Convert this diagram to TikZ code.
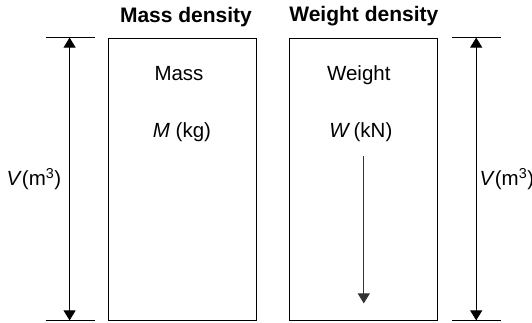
\documentclass[tikz,border=0pt]{standalone}
\usepackage{fontspec}
\setmainfont{Liberation Sans}
\usetikzlibrary{arrows.meta,positioning}
\tikzset{densitybox/.style={rectangle,draw=black,line width=0.8pt,minimum width=148pt,minimum height=282pt,inner sep=0pt}}
\tikzset{heading/.style={font=\bfseries\fontsize{21}{25}\selectfont,inner sep=0pt}}
\tikzset{boxtext/.style={font=\fontsize{20.5}{24}\selectfont,inner sep=0pt}}
\tikzset{dimarrow/.style={line width=0.9pt,{Triangle[length=10pt,width=12pt]}-{Triangle[length=10pt,width=12pt]}}}
\tikzset{forcearrow/.style={line width=0.9pt,draw=black!80,-{Triangle[length=10pt,width=12pt]}}}
\tikzset{extline/.style={line width=0.8pt}}

\begin{document}
\begin{tikzpicture}
  \useasboundingbox (0,0) rectangle (532pt,323pt);
  % the two boxes
  \node[densitybox] (massbox) at (182pt,144pt) {};
  \node[densitybox,right=33pt of massbox] (weightbox) {};
  \node[heading,above=11pt of massbox,xshift=4pt] (masstitle) {Mass density};
  \node[heading,above=11pt of weightbox] (weighttitle) {Weight density};
  % texts in the boxes
  \node[boxtext,anchor=base] (mass) at ([xshift=-3pt,yshift=-43pt]massbox.north) {Mass};
  \node[boxtext,anchor=base] (masssym) at ([yshift=-57pt]mass.base -| massbox.north) {\textit{M} (kg)};
  \node[boxtext,anchor=base] (weight) at ([xshift=-5pt]mass.base -| weightbox.north) {Weight};
  \node[boxtext,anchor=base] (weightsym) at ([xshift=-3pt]masssym.base -| weightbox.north) {\textit{W}\,(kN)};
  % weight arrow
  \coordinate (wtop) at ([yshift=-18pt]masssym.base -| weightbox.north);
  \coordinate (wbot) at ([yshift=17pt]weightbox.south);
  \draw[forcearrow] (wtop) -- (wbot);
  % volume dimensions
  \coordinate (la) at ([xshift=-62pt]massbox.north west);
  \coordinate (lb) at ([xshift=-13pt]massbox.north west);
  \coordinate (lc) at ([xshift=-62pt]massbox.south west);
  \coordinate (ld) at ([xshift=-13pt]massbox.south west);
  \coordinate (ra) at ([xshift=14pt]weightbox.north east);
  \coordinate (rb) at ([xshift=63pt]weightbox.north east);
  \coordinate (rc) at ([xshift=14pt]weightbox.south east);
  \coordinate (rd) at ([xshift=63pt]weightbox.south east);
  \draw[extline] (la) -- (lb) (lc) -- (ld) (ra) -- (rb) (rc) -- (rd);
  \coordinate (lt) at ([xshift=-38pt]massbox.north west);
  \coordinate (lu) at ([xshift=-38pt]massbox.south west);
  \coordinate (rt) at ([xshift=38pt]weightbox.north east);
  \coordinate (ru) at ([xshift=38pt]weightbox.south east);
  \draw[dimarrow] (lt) -- node[boxtext,left=8pt] (lvol) {\textit{V}(m\textsuperscript{3})} (lu);
  \draw[dimarrow] (rt) -- node[boxtext,right=3pt] (rvol) {\textit{V}(m\textsuperscript{3})} (ru);
\end{tikzpicture}
\end{document}
